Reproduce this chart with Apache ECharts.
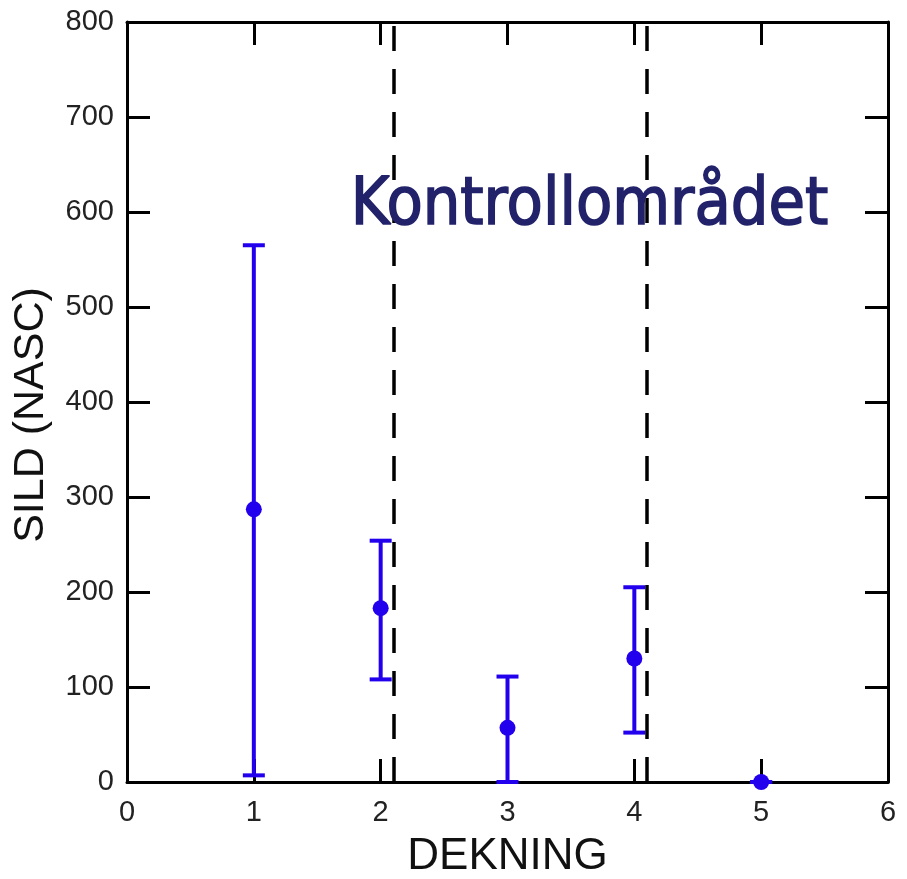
<!DOCTYPE html>
<html>
<head>
<meta charset="utf-8">
<script src="https://cdn.jsdelivr.net/npm/echarts@6/dist/echarts.min.js"></script>
<style>
html, body { margin: 0; padding: 0; background: #fff; }
#main { width: 907px; height: 879px; }
</style>
</head>
<body>
<div id="main"></div>
<script>
var dekning = [1, 2, 3, 4, 5];
var sildMean = [287, 183, 57, 130, 0];
var sildLow = [7, 108, 0, 52, 0];
var sildHigh = [565, 254, 111, 205, 0];
var borders = [2.1, 4.1];
var xTicks = [0, 1, 2, 3, 4, 5, 6];
var yTicks = [0, 100, 200, 300, 400, 500, 600, 700, 800];

var chartDom = document.getElementById('main');
var myChart = echarts.init(chartDom);

var blue = '#2200ee';
var font = 'Liberation Sans, Arial, sans-serif';
var points = dekning.map(function (x, i) { return [x, sildMean[i]]; });
var bars = dekning.map(function (x, i) { return [x, sildLow[i], sildHigh[i]]; });

var frameLine = { show: true, onZero: false, lineStyle: { color: '#000', width: 3 } };
var frameTick = { show: true, inside: true, length: 23, lineStyle: { color: '#000', width: 3 } };

var option = {
  animation: false,
  grid: { left: 127, right: 19, top: 22, bottom: 97, outerBoundsMode: 'none', containLabel: false },
  xAxis: [
    {
      type: 'value', min: xTicks[0], max: xTicks[xTicks.length - 1], interval: 1,
      name: 'DEKNING', nameLocation: 'middle', nameGap: 53,
      nameTextStyle: { color: '#111', fontSize: 44, fontFamily: font },
      axisLine: frameLine,
      axisTick: frameTick,
      axisLabel: { margin: 16, color: '#222', fontSize: 29, fontFamily: font },
      splitLine: { show: false }
    },
    {
      type: 'value', position: 'top', min: 0, max: 6, interval: 1,
      axisLine: frameLine,
      axisTick: frameTick,
      axisLabel: { show: false },
      splitLine: { show: false }
    }
  ],
  yAxis: [
    {
      type: 'value', min: yTicks[0], max: yTicks[yTicks.length - 1], interval: 100,
      name: 'SILD (NASC)', nameLocation: 'middle', nameGap: 74, nameRotate: 90,
      nameTextStyle: { color: '#111', fontSize: 43, fontFamily: font, padding: [0, 26, 0, 0] },
      axisLine: frameLine,
      axisTick: frameTick,
      axisLabel: { margin: 13, color: '#222', fontSize: 29, fontFamily: font },
      splitLine: { show: false }
    },
    {
      type: 'value', position: 'right', min: 0, max: 800, interval: 100,
      axisLine: frameLine,
      axisTick: frameTick,
      axisLabel: { show: false },
      splitLine: { show: false }
    }
  ],
  graphic: [
    {
      type: 'text', left: 350, top: 173, z: 10,
      style: {
        text: 'Kontrollområdet',
        fill: '#22226a',
        stroke: '#22226a',
        lineWidth: 1.5,
        fontSize: 66,
        fontFamily: 'Comic Sans MS, DejaVu Sans Condensed, DejaVu Sans, sans-serif'
      }
    }
  ],
  series: [
    {
      type: 'custom',
      data: bars,
      z: 3,
      renderItem: function (params, api) {
        var x = api.value(0);
        var lo = api.coord([x, api.value(1)]);
        var hi = api.coord([x, api.value(2)]);
        var half = 11;
        var style = { stroke: blue, lineWidth: 4 };
        return {
          type: 'group',
          children: [
            { type: 'line', shape: { x1: lo[0], y1: lo[1], x2: hi[0], y2: hi[1] }, style: style },
            { type: 'line', shape: { x1: hi[0] - half, y1: hi[1], x2: hi[0] + half, y2: hi[1] }, style: style },
            { type: 'line', shape: { x1: lo[0] - half, y1: lo[1], x2: lo[0] + half, y2: lo[1] }, style: style }
          ]
        };
      }
    },
    {
      type: 'scatter',
      data: points,
      symbol: 'circle',
      symbolSize: 16,
      z: 4,
      itemStyle: { color: blue, opacity: 1 },
      markLine: {
        silent: true,
        symbol: 'none',
        label: { show: false },
        lineStyle: { color: '#000', type: [25, 18], width: 3.5, opacity: 1 },
        data: borders.map(function (b) { return { xAxis: b }; })
      }
    }
  ]
};

option && myChart.setOption(option);
</script>
</body>
</html>
